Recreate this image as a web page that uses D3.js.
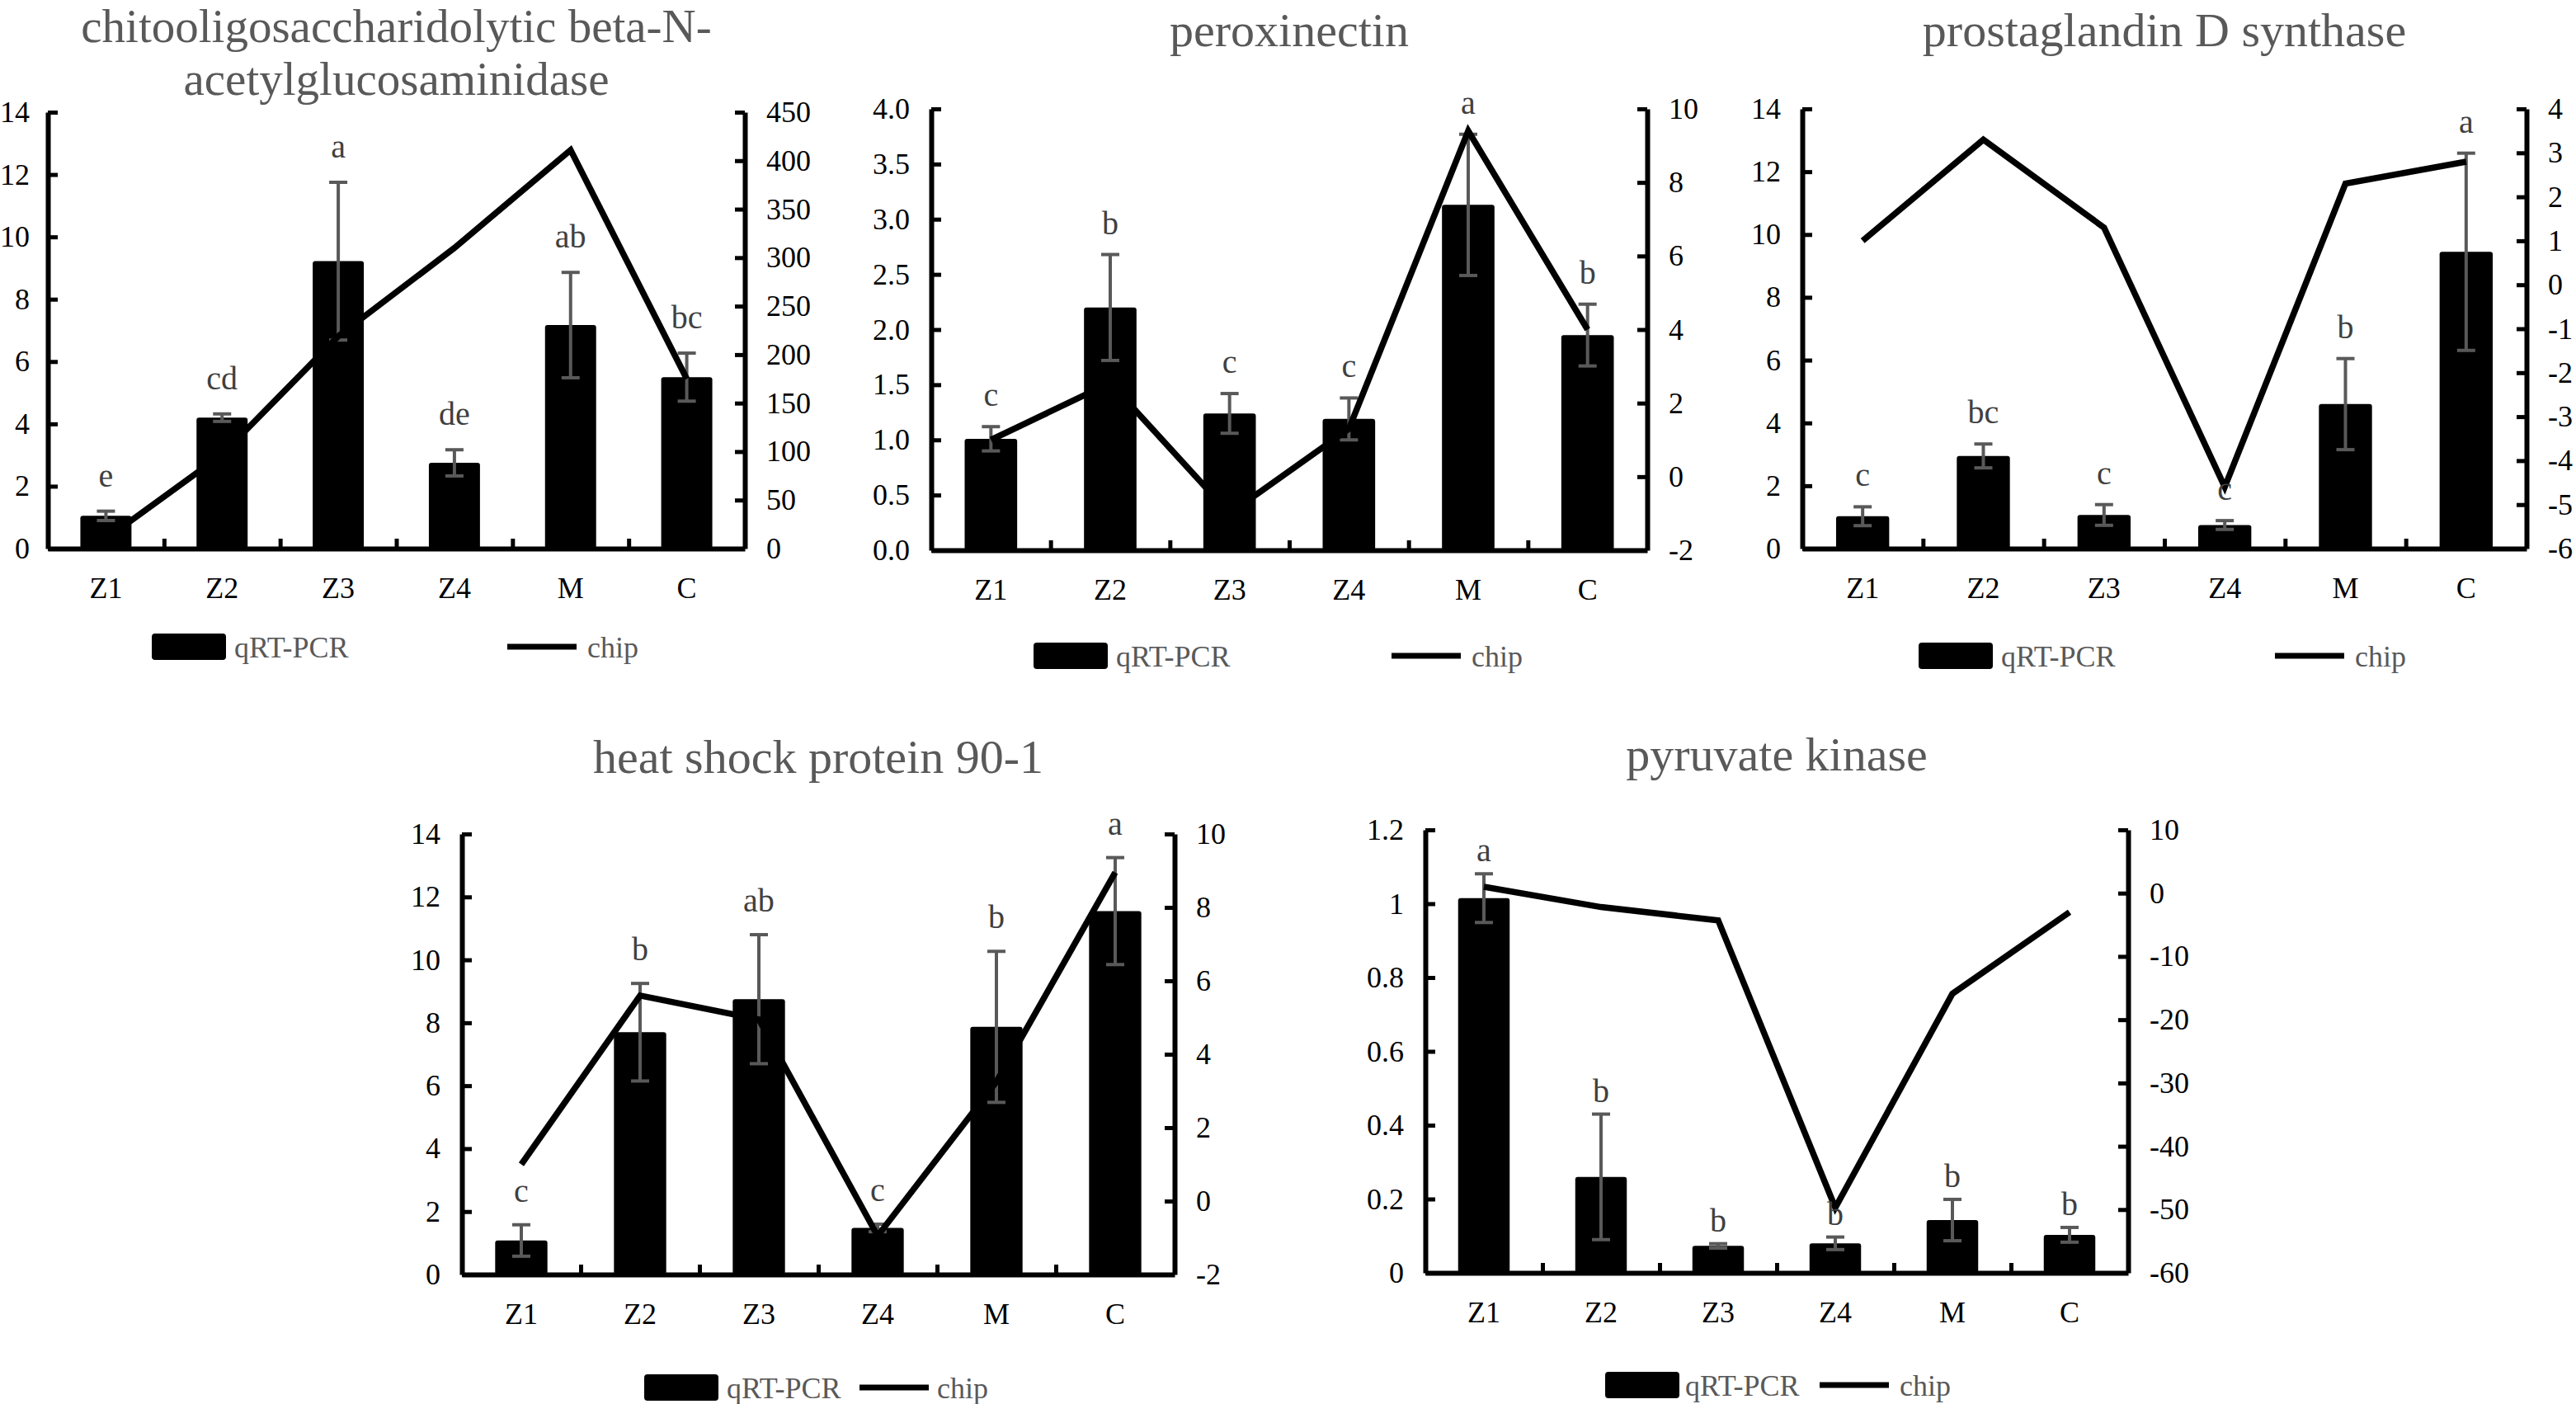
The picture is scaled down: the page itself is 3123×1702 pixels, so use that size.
<!DOCTYPE html>
<html>
<head>
<meta charset="utf-8">
<script src="https://cdn.jsdelivr.net/npm/d3@7/dist/d3.min.js"></script>
<style>
  html, body { margin: 0; padding: 0; background: #fff; }
  svg { display: block; }
  text { font-family: "Liberation Serif", "Times New Roman", serif; }
</style>
</head>
<body>
<svg id="chart" width="3123" height="1702"></svg>
<script>
// ---------- DATA ----------
const categories = ["Z1", "Z2", "Z3", "Z4", "M", "C"];

// chitooligosaccharidolytic beta-N-acetylglucosaminidase
const chitoQPCR = [1.05, 4.2, 9.22, 2.75, 7.17, 5.5];
const chitoErr  = [0.15, 0.12, 2.53, 0.42, 1.69, 0.77];
const chitoChip = [10, 97, 219, 310, 411, 175];
const chitoSig  = ["e", "cd", "a", "de", "ab", "bc"];
const chitoLeftTicks  = [0, 2, 4, 6, 8, 10, 12, 14];
const chitoRightTicks = [0, 50, 100, 150, 200, 250, 300, 350, 400, 450];

// peroxinectin
const peroxQPCR = [1.01, 2.2, 1.24, 1.19, 3.13, 1.95];
const peroxErr  = [0.11, 0.48, 0.18, 0.19, 0.64, 0.28];
const peroxChip = [1.0, 2.55, -1.0, 1.3, 9.4, 4.0];
const peroxSig  = ["c", "b", "c", "c", "a", "b"];
const peroxLeftTicks  = [0, 0.5, 1.0, 1.5, 2.0, 2.5, 3.0, 3.5, 4.0];
const peroxRightTicks = [-2, 0, 2, 4, 6, 8, 10];

// prostaglandin D synthase
const pgdsQPCR = [1.03, 2.95, 1.07, 0.75, 4.6, 9.45];
const pgdsErr  = [0.3, 0.38, 0.33, 0.14, 1.45, 3.14];
const pgdsChip = [1.0, 3.3, 1.3, -4.6, 2.3, 2.8];
const pgdsSig  = ["c", "bc", "c", "c", "b", "a"];
const pgdsLeftTicks  = [0, 2, 4, 6, 8, 10, 12, 14];
const pgdsRightTicks = [-6, -5, -4, -3, -2, -1, 0, 1, 2, 3, 4];

// heat shock protein 90-1
const hspQPCR = [1.08, 7.7, 8.75, 1.48, 7.87, 11.55];
const hspErr  = [0.5, 1.55, 2.05, 0.12, 2.4, 1.7];
const hspChip = [1.0, 5.6, 4.95, -0.95, 3.25, 8.95];
const hspSig  = ["c", "b", "ab", "c", "b", "a"];
const hspLeftTicks  = [0, 2, 4, 6, 8, 10, 12, 14];
const hspRightTicks = [-2, 0, 2, 4, 6, 8, 10];

// pyruvate kinase
const pkQPCR = [1.015, 0.26, 0.073, 0.08, 0.143, 0.103];
const pkErr  = [0.066, 0.17, 0.006, 0.017, 0.056, 0.02];
const pkChip = [1.0, -2.2, -4.3, -49.7, -15.9, -3.0];
const pkSig  = ["a", "b", "b", "b", "b", "b"];
const pkLeftTicks  = [0, 0.2, 0.4, 0.6, 0.8, 1, 1.2];
const pkRightTicks = [-60, -50, -40, -30, -20, -10, 0, 10];

const legendLabels = ["qRT-PCR", "chip"];

// ---------- formats (hyphen-minus like the original) ----------
const fmtInt = v => String(Math.round(v));
const fmt1 = v => v.toFixed(1);
const fmtGen = v => String(+v.toFixed(1));

// ---------- PANELS (layout) ----------
const panels = [
  { title: ["chitooligosaccharidolytic beta-N-", "acetylglucosaminidase"], titleY: 51, lineH: 64, tfs: 57,
    L: 58, R: 903, T: 136, B: 665, lpad: 22,
    q: chitoQPCR, err: chitoErr, chip: chitoChip, sig: chitoSig,
    lt: chitoLeftTicks, rt: chitoRightTicks, lfmt: fmtInt, rfmt: fmtInt,
    leg: { y: 784, sw: 126, tx: 226, l1: 557, l2: 641, ct: 654 }, gap: 30 },
  { title: ["peroxinectin"], titleY: 56, lineH: 64, tfs: 58,
    L: 1129, R: 1997, T: 132, B: 667, lpad: 26,
    q: peroxQPCR, err: peroxErr, chip: peroxChip, sig: peroxSig,
    lt: peroxLeftTicks, rt: peroxRightTicks, lfmt: fmt1, rfmt: fmtInt,
    leg: { y: 795, sw: 124, tx: 224, l1: 558, l2: 642, ct: 655 }, gap: 25 },
  { title: ["prostaglandin D synthase"], titleY: 56, lineH: 64, tfs: 58,
    L: 2185, R: 3063, T: 132, B: 665, lpad: 26,
    q: pgdsQPCR, err: pgdsErr, chip: pgdsChip, sig: pgdsSig,
    lt: pgdsLeftTicks, rt: pgdsRightTicks, lfmt: fmtInt, rfmt: fmtInt,
    leg: { y: 795, sw: 141, tx: 241, l1: 573, l2: 657, ct: 670 }, gap: 25 },
  { title: ["heat shock protein 90-1"], titleY: 937, lineH: 64, tfs: 58,
    L: 560, R: 1424, T: 1011, B: 1545, lpad: 26,
    q: hspQPCR, err: hspErr, chip: hspChip, sig: hspSig,
    lt: hspLeftTicks, rt: hspRightTicks, lfmt: fmtInt, rfmt: fmtInt,
    leg: { y: 1682, sw: 221, tx: 321, l1: 482, l2: 566, ct: 576 }, gap: 28 },
  { title: ["pyruvate kinase"], titleY: 934, lineH: 64, tfs: 58,
    L: 1728, R: 2580, T: 1006, B: 1543, lpad: 26,
    q: pkQPCR, err: pkErr, chip: pkChip, sig: pkSig,
    lt: pkLeftTicks, rt: pkRightTicks, lfmt: fmtGen, rfmt: fmtInt,
    leg: { y: 1679, sw: 218, tx: 315, l1: 478, l2: 562, ct: 575 }, gap: 15 }
];

const svg = d3.select("#chart");
svg.append("rect").attr("width", 3123).attr("height", 1702).attr("fill", "#fff");

const GRAY = "#595959";
const TICK_FS = 36, SIG_FS = 40;

panels.forEach(p => {
  const g = svg.append("g");
  const x = d3.scaleBand().domain(categories).range([p.L, p.R]).paddingInner(0.56).paddingOuter(0.28);
  const yL = d3.scaleLinear().domain([p.lt[0], p.lt[p.lt.length - 1]]).range([p.B, p.T]);
  const yR = d3.scaleLinear().domain([p.rt[0], p.rt[p.rt.length - 1]]).range([p.B, p.T]);
  const cx = c => x(c) + x.bandwidth() / 2;

  // title (one text element, lines as tspans)
  const tx = (p.L + p.R) / 2;
  const tt = g.append("text").attr("x", tx).attr("y", p.titleY)
    .attr("text-anchor", "middle").attr("font-size", p.tfs).attr("fill", GRAY);
  p.title.forEach((t, i) => {
    tt.append("tspan").attr("x", tx).attr("dy", i === 0 ? 0 : p.lineH).text(t);
  });

  // bars
  g.selectAll("rect.bar").data(categories).join("rect").attr("class", "bar")
    .attr("x", c => x(c)).attr("width", x.bandwidth())
    .attr("y", (c, i) => yL(p.q[i])).attr("height", (c, i) => yL(0) - yL(p.q[i]))
    .attr("rx", 3).attr("fill", "#000");

  // error bars
  const eg = g.append("g").attr("stroke", GRAY).attr("stroke-width", 4).attr("fill", "none");
  categories.forEach((c, i) => {
    const hi = yL(p.q[i] + p.err[i]), lo = yL(p.q[i] - p.err[i]), xc = cx(c);
    eg.append("line").attr("x1", xc).attr("x2", xc).attr("y1", hi).attr("y2", lo);
    eg.append("line").attr("x1", xc - 11).attr("x2", xc + 11).attr("y1", hi).attr("y2", hi);
    eg.append("line").attr("x1", xc - 11).attr("x2", xc + 11).attr("y1", lo).attr("y2", lo);
  });

  // axes
  const axL = d3.axisLeft(yL).tickValues(p.lt).tickFormat(p.lfmt).tickSizeInner(-12).tickSizeOuter(0).tickPadding(p.lpad);
  const axR = d3.axisRight(yR).tickValues(p.rt).tickFormat(p.rfmt).tickSizeInner(-12).tickSizeOuter(0).tickPadding(26);
  const xb = d3.scaleLinear().domain([0, categories.length]).range([p.L, p.R]);
  const axB = d3.axisBottom(xb).tickValues([1, 2, 3, 4, 5]).tickFormat("").tickSizeInner(-12).tickSizeOuter(0);
  const axBL = d3.axisBottom(x).tickSize(0).tickPadding(34);

  const styleAxis = sel => {
    sel.attr("font-family", '"Liberation Serif", "Times New Roman", serif');
    sel.select(".domain").attr("stroke", "#000").attr("stroke-width", 6);
    sel.selectAll(".tick line").attr("stroke", "#000").attr("stroke-width", 5);
    sel.selectAll(".tick text").attr("font-size", TICK_FS).attr("fill", "#000");
  };
  g.append("g").attr("transform", `translate(${p.L},0)`).call(axL).call(styleAxis);
  g.append("g").attr("transform", `translate(${p.R},0)`).call(axR).call(styleAxis);
  g.append("g").attr("transform", `translate(0,${p.B})`).call(axB).call(styleAxis);
  const bl = g.append("g").attr("transform", `translate(0,${p.B})`).call(axBL).call(styleAxis);
  bl.select(".domain").remove();

  // chip line
  g.append("path").datum(p.chip)
    .attr("d", d3.line().x((d, i) => cx(categories[i])).y(d => yR(d)))
    .attr("fill", "none").attr("stroke", "#000").attr("stroke-width", 7.5)
    .attr("stroke-linejoin", "miter");

  // significance letters
  g.selectAll("text.sig").data(categories).join("text").attr("class", "sig")
    .attr("x", c => cx(c)).attr("y", (c, i) => yL(p.q[i] + p.err[i]) - p.gap)
    .attr("text-anchor", "middle").attr("font-size", SIG_FS).attr("fill", "#404040")
    .text((c, i) => p.sig[i]);

  // legend
  const lg = g.append("g");
  lg.append("rect").attr("x", p.L + p.leg.sw).attr("y", p.leg.y - 16).attr("width", 90).attr("height", 32)
    .attr("rx", 4).attr("fill", "#000");
  lg.append("text").attr("x", p.L + p.leg.tx).attr("y", p.leg.y + 13)
    .attr("font-size", TICK_FS).attr("fill", GRAY).text(legendLabels[0]);
  lg.append("line").attr("x1", p.L + p.leg.l1).attr("x2", p.L + p.leg.l2)
    .attr("y1", p.leg.y).attr("y2", p.leg.y).attr("stroke", "#000").attr("stroke-width", 7);
  lg.append("text").attr("x", p.L + p.leg.ct).attr("y", p.leg.y + 13)
    .attr("font-size", TICK_FS).attr("fill", GRAY).text(legendLabels[1]);
});
</script>
</body>
</html>
